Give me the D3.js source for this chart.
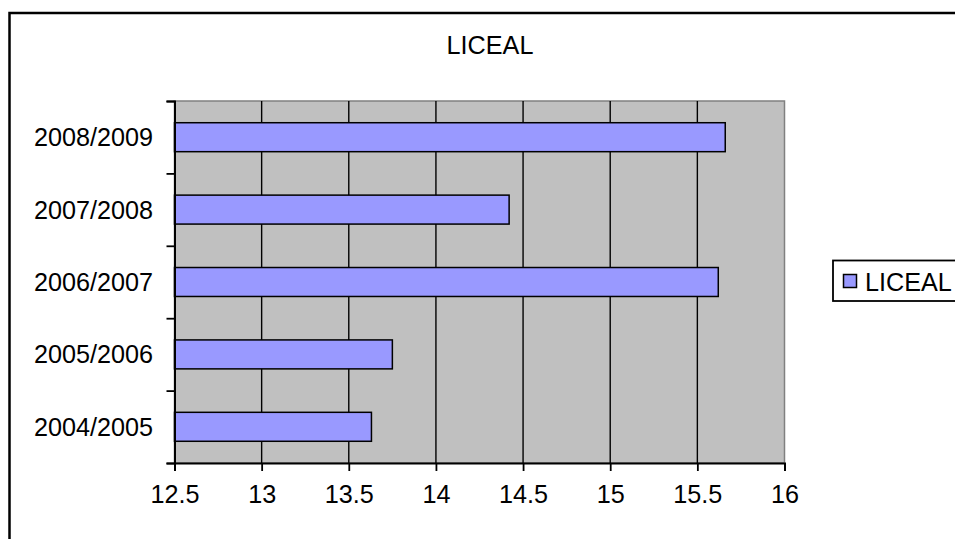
<!DOCTYPE html>
<html>
<head>
<meta charset="utf-8">
<script src="https://cdn.jsdelivr.net/npm/d3@7"></script>
<style>
html,body{margin:0;padding:0;background:#fff;}
svg{display:block;}
text{font-family:"Liberation Sans",Arial,sans-serif;fill:#000;}
</style>
</head>
<body>
<svg id="chart" width="955" height="539"></svg>
<script>
const title = "LICEAL";
const seriesName = "LICEAL";
const categories = ["2004/2005","2005/2006","2006/2007","2007/2008","2008/2009"];
const values = [13.63, 13.75, 15.62, 14.42, 15.66];
const xTicks = [12.5, 13, 13.5, 14, 14.5, 15, 15.5, 16];
const xTickLabels = ["12.5","13","13.5","14","14.5","15","15.5","16"];

const svg = d3.select("#chart");
const fs = 25.2;

// outer chart border
svg.append("rect").attr("x",9.5).attr("y",13).attr("width",1000).attr("height",600)
  .attr("fill","#fff").attr("stroke","#000").attr("stroke-width",2.5);

const plot = {left:174.5, right:784.5, top:101, bottom:463};

const x = d3.scaleLinear().domain([12.5,16]).range([plot.left, plot.right]);
const y = d3.scaleBand().domain(categories).range([plot.bottom, plot.top])
  .paddingInner(0.6).paddingOuter(0.3);
const yIdx = d3.scaleLinear().domain([0, categories.length]).range([plot.bottom, plot.top]);

// plot background
svg.append("rect").attr("x",plot.left).attr("y",plot.top)
  .attr("width",plot.right-plot.left).attr("height",plot.bottom-plot.top)
  .attr("fill","#C0C0C0").attr("stroke","#808080").attr("stroke-width",1.5);

// gridlines
svg.append("g").selectAll("line").data(xTicks.slice(1,-1)).join("line")
  .attr("x1",d=>x(d)).attr("x2",d=>x(d)).attr("y1",plot.top).attr("y2",plot.bottom)
  .attr("stroke","#000").attr("stroke-width",1.4);

// bars
svg.append("g").selectAll("rect").data(categories).join("rect")
  .attr("x",x(12.5)).attr("y",d=>y(d))
  .attr("width",(d,i)=>x(values[i])-x(12.5)).attr("height",y.bandwidth())
  .attr("fill","#9999FF").attr("stroke","#000").attr("stroke-width",1.5);

// x axis
const xAxis = d3.axisBottom(x).tickValues(xTicks).tickFormat((d,i)=>xTickLabels[i])
  .tickSize(8).tickPadding(14);
const gx = svg.append("g").attr("transform",`translate(0,${plot.bottom})`).call(xAxis);
gx.select(".domain").attr("stroke","#000").attr("stroke-width",2);
gx.selectAll(".tick line").attr("stroke","#000").attr("stroke-width",1.8);
gx.selectAll("text").attr("font-size",fs).attr("font-family","Liberation Sans, Arial, sans-serif").attr("fill","#000");

// y axis (ticks at category boundaries)
const yAxis = d3.axisLeft(yIdx).tickValues(d3.range(categories.length+1)).tickFormat("").tickSize(8);
const gy = svg.append("g").attr("transform",`translate(${plot.left},0)`).call(yAxis);
gy.select(".domain").attr("stroke","#000").attr("stroke-width",2);
gy.selectAll(".tick line").attr("stroke","#000").attr("stroke-width",1.8);

// y labels
svg.append("g").selectAll("text").data(categories).join("text")
  .attr("x",153).attr("y",d=>y(d)+y.bandwidth()/2)
  .attr("dy","0.36em").attr("text-anchor","end").attr("font-size",fs).text(d=>d);

// title
svg.append("text").attr("x",490).attr("y",54).attr("text-anchor","middle")
  .attr("font-size",fs).text(title);

// legend
const lg = svg.append("g");
lg.append("rect").attr("x",833).attr("y",260.5).attr("width",160).attr("height",40.5)
  .attr("fill","#fff").attr("stroke","#000").attr("stroke-width",1.8);
lg.append("rect").attr("x",843.5).attr("y",274.5).attr("width",13).attr("height",13)
  .attr("fill","#9999FF").attr("stroke","#000").attr("stroke-width",1.5);
lg.append("text").attr("x",865).attr("y",290.5).attr("font-size",fs).text(seriesName);
</script>
</body>
</html>
